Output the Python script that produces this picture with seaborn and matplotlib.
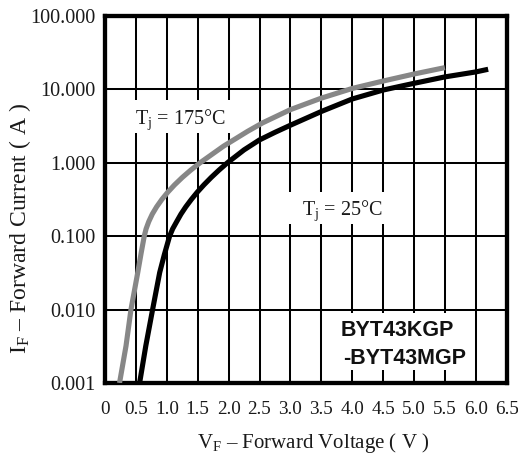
import matplotlib
matplotlib.use("Agg")
import matplotlib.pyplot as plt
from matplotlib.patches import Rectangle
from matplotlib.ticker import NullLocator, FixedLocator
import seaborn as sns
import pandas as pd

# ---- data ----
v_175 = [0.235, 0.34, 0.42, 0.53, 0.585, 0.635, 0.665, 0.708, 0.765, 0.835, 0.919,
         1.016, 1.126, 1.25, 1.387, 1.538, 1.92, 2.31, 2.55, 3.0, 3.5, 4.0, 4.5, 5.0, 5.5]
i_175 = [0.001, 0.0032, 0.01, 0.032, 0.059, 0.1, 0.126, 0.158, 0.2, 0.251, 0.316,
         0.398, 0.501, 0.631, 0.794, 1.0, 1.69, 2.69, 3.5, 5.3, 7.6, 10.3, 13.0, 16.2, 19.8]

v_25 = [0.56, 0.66, 0.77, 0.885, 0.96, 1.045, 1.095, 1.16, 1.229, 1.307, 1.396,
        1.493, 1.601, 1.718, 1.844, 1.98, 2.25, 2.5, 2.75, 3.0, 3.5, 4.0, 4.5, 5.0, 5.5, 6.0, 6.2]
i_25 = [0.001, 0.0032, 0.01, 0.032, 0.056, 0.1, 0.126, 0.158, 0.2, 0.251, 0.316,
        0.398, 0.501, 0.631, 0.794, 1.0, 1.5, 2.05, 2.6, 3.25, 5.0, 7.4, 9.8, 12.1, 14.8, 17.3, 18.8]

x_ticks = [0, 0.5, 1.0, 1.5, 2.0, 2.5, 3.0, 3.5, 4.0, 4.5, 5.0, 5.5, 6.0, 6.5]
x_tick_labels = ["0", "0.5", "1.0", "1.5", "2.0", "2.5", "3.0", "3.5", "4.0", "4.5", "5.0", "5.5", "6.0", "6.5"]
y_ticks = [0.001, 0.01, 0.1, 1, 10, 100]
y_tick_labels = ["0.001", "0.010", "0.100", "1.000", "10.000", "100.000"]

series_names = ["175", "25"]
series_colors = {"175": "#878787", "25": "#000000"}

x_label = r"V$_{\mathrm{F}}$ – Forward Voltage ( V )"
y_label = r"I$_{\mathrm{F}}$ – Forward Current ( A )"
label_175 = r"T$_{\mathrm{j}}$ = 175°C"
label_25 = r"T$_{\mathrm{j}}$ = 25°C"
part_line1 = "BYT43KGP"
part_line2 = "-BYT43MGP"

# ---- style ----
sns.set_theme(style="white")
plt.rcParams["font.family"] = ["Liberation Serif", "DejaVu Serif"]
plt.rcParams["mathtext.fontset"] = "custom"
plt.rcParams["mathtext.rm"] = "Liberation Serif"
plt.rcParams["mathtext.it"] = "Liberation Serif:italic"
plt.rcParams["mathtext.bf"] = "Liberation Serif:bold"

df = pd.concat([
    pd.DataFrame({"V": v_175, "I": i_175, "Tj": series_names[0]}),
    pd.DataFrame({"V": v_25, "I": i_25, "Tj": series_names[1]}),
], ignore_index=True)

fig = plt.figure(figsize=(5.18, 4.59), dpi=100)
ax = fig.add_axes([105 / 518, (459 - 383) / 459, 401.7 / 518, 367 / 459])

sns.lineplot(data=df, x="V", y="I", hue="Tj", palette=series_colors,
             sort=False, estimator=None, linewidth=3.7, legend=False,
             ax=ax, zorder=3)
for ln in ax.get_lines():
    ln.set_solid_joinstyle("round")
    ln.set_solid_capstyle("butt")

ax.set_yscale("log")
ax.set_xlim(0, 6.5)
ax.set_ylim(0.001, 100)
ax.xaxis.set_major_locator(FixedLocator(x_ticks))
ax.set_xticklabels(x_tick_labels)
ax.yaxis.set_major_locator(FixedLocator(y_ticks))
ax.yaxis.set_minor_locator(NullLocator())
ax.set_yticklabels(y_tick_labels)

ax.set_axisbelow(True)
ax.grid(True, which="major", color="black", linewidth=1.45)
for s in ax.spines.values():
    s.set_visible(True)
    s.set_color("black")
    s.set_linewidth(3.1)

ax.tick_params(axis="x", length=0, pad=13, labelsize=13.8, labelcolor="#1a1a1a")
ax.tick_params(axis="y", length=0, pad=7, labelsize=14.5, labelcolor="#1a1a1a")

ax.set_xlabel(x_label, fontsize=15, color="#1a1a1a")
ax.set_ylabel(y_label, fontsize=17, color="#1a1a1a")
ax.xaxis.set_label_coords(0.518, -0.13)
ax.yaxis.set_label_coords(-0.18, 0.42)

# white label boxes that interrupt the grid
for (x0, y0, w, h) in [(0.057, 0.681, 0.269, 0.09),
                       (0.436, 0.433, 0.286, 0.087),
                       (0.548, 0.035, 0.362, 0.157)]:
    ax.add_patch(Rectangle((x0, y0), w, h, transform=ax.transAxes,
                           facecolor="white", edgecolor="none", zorder=1))

ax.text(0.187, 0.718, label_175, transform=ax.transAxes, ha="center", va="center",
        fontsize=14.5, color="#1a1a1a", zorder=4)
ax.text(0.59, 0.47, label_25, transform=ax.transAxes, ha="center", va="center",
        fontsize=14.5, color="#1a1a1a", zorder=4)
ax.text(0.5875, 0.142, part_line1, transform=ax.transAxes, ha="left", va="center",
        fontsize=15.5, fontweight="bold", family=["Liberation Sans", "DejaVu Sans"],
        color="#111111", zorder=4)
ax.text(0.594, 0.066, part_line2, transform=ax.transAxes, ha="left", va="center",
        fontsize=15.5, fontweight="bold", family=["Liberation Sans", "DejaVu Sans"],
        color="#111111", zorder=4)

fig.savefig("out.png", dpi=100)
